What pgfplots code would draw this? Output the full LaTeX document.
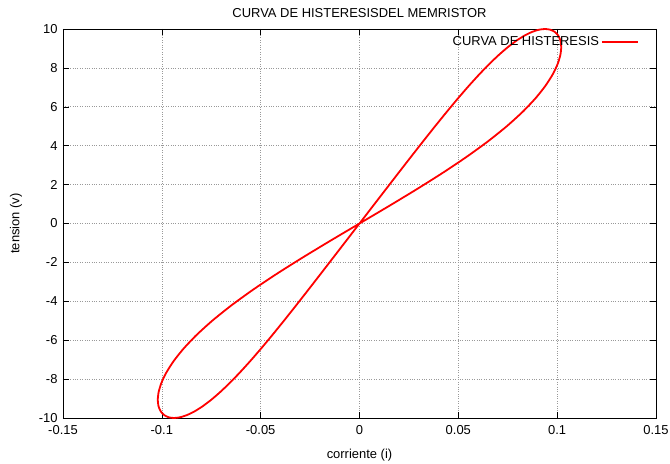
\documentclass[border=0pt]{standalone}
\usepackage{pgfplots}
\pgfplotsset{compat=1.18}
\usepackage{fontspec}
\setmainfont{Liberation Sans}
\begin{document}
\fontsize{13}{15}\selectfont
\begin{tikzpicture}[x=1bp,y=1bp]
\useasboundingbox (-63bp,-46bp) rectangle (607bp,418bp);
\begin{axis}[
  at={(0,0)}, anchor=south west,
  scale only axis, width=593bp, height=389bp,
  xmin=-0.15, xmax=0.15, ymin=-10, ymax=10,
  xtick={-0.15,-0.1,-0.05,0,0.05,0.1,0.15},
  xticklabels={-0.15,-0.1,-0.05,0,0.05,0.1,0.15},
  ytick={-10,-8,-6,-4,-2,0,2,4,6,8,10},
  /pgf/number format/assume math mode=true,
  tick label style={font=\fontsize{13}{15}\selectfont},
  xticklabel style={yshift=-3bp},
  yticklabel style={xshift=-1bp},
  label style={font=\fontsize{13}{15}\selectfont},
  tick align=inside, major tick length=6bp,
  tick style={black, line width=0.5bp},
  axis line style={black, line width=0.8bp},
  grid=major, grid style={dotted, gray!80, line width=0.6bp},
  title={CURVA DE HISTERESISDEL MEMRISTOR},
  title style={yshift=1bp, font=\fontsize{13}{15}\selectfont},
  xlabel={corriente (i)}, ylabel={tension (v)},
  xlabel style={yshift=-6bp}, ylabel style={yshift=8bp},
  legend plot pos=right,
  legend image code/.code={\draw[#1] (0bp,0bp) -- (36bp,0bp);},
  legend style={at={(1,1)}, anchor=north east, draw=none, fill=none, xshift=-14bp, yshift=-3bp, font=\fontsize{13}{15}\selectfont},
  legend cell align=right,
]
\addplot[red, line width=1.8bp, smooth, tension=0.4] coordinates {
(0,0) (0.006603,0.8716) (0.013160,1.7365) (0.019631,2.5882) (0.025985,3.4202)
(0.032195,4.2262) (0.038240,5.0) (0.044107,5.7358) (0.049783,6.4279) (0.055258,7.0711)
(0.060526,7.6604) (0.065578,8.1915) (0.070409,8.6603) (0.075006,9.0631) (0.079357,9.3969)
(0.083445,9.6593) (0.087246,9.8481) (0.090729,9.9619) (0.093858,10.0) (0.096582,9.9619)
(0.098843,9.8481) (0.100568,9.6593) (0.101670,9.3969) (0.102055,9.0631) (0.101605,8.6603)
(0.100199,8.1915) (0.097709,7.6604) (0.094003,7.0711) (0.088959,6.4279) (0.082480,5.7358)
(0.074502,5.0) (0.065020,4.2262) (0.054090,3.4202) (0.041858,2.5882) (0.028552,1.7365)
(0.014477,0.8716) (0,0)
(-0.014477,-0.8716) (-0.028552,-1.7365) (-0.041858,-2.5882) (-0.054090,-3.4202) (-0.065020,-4.2262)
(-0.074502,-5.0) (-0.082480,-5.7358) (-0.088959,-6.4279) (-0.094003,-7.0711) (-0.097709,-7.6604)
(-0.100199,-8.1915) (-0.101605,-8.6603) (-0.102055,-9.0631) (-0.101670,-9.3969) (-0.100568,-9.6593)
(-0.098843,-9.8481) (-0.096582,-9.9619) (-0.093858,-10.0) (-0.090729,-9.9619) (-0.087246,-9.8481)
(-0.083445,-9.6593) (-0.079357,-9.3969) (-0.075006,-9.0631) (-0.070409,-8.6603) (-0.065578,-8.1915)
(-0.060526,-7.6604) (-0.055258,-7.0711) (-0.049783,-6.4279) (-0.044107,-5.7358) (-0.038240,-5.0)
(-0.032195,-4.2262) (-0.025985,-3.4202) (-0.019631,-2.5882) (-0.013160,-1.7365) (-0.006603,-0.8716)
(0,0)
};
\addlegendentry{CURVA DE HISTERESIS}
\node[anchor=south west, inner sep=0pt, font=\fontsize{13}{15}\selectfont] at (rel axis cs:0,1) [xshift=-3bp, yshift=5bp] {1e-7};
\end{axis}
\end{tikzpicture}
\end{document}
